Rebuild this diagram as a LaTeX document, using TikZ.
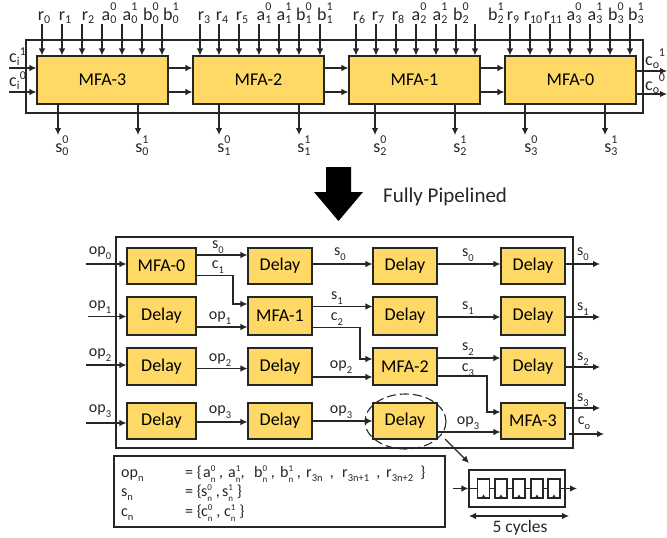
\documentclass[tikz,border=0pt]{standalone}
\usepackage{fontspec}
\setmainfont{Carlito}
\usetikzlibrary{arrows.meta}
\definecolor{blockgold}{HTML}{FFD966}
\definecolor{linedark}{HTML}{262626}
\newcommand{\scr}{\fontsize{10.5}{10.5}\selectfont}
\newcommand{\scrbig}{\fontsize{12}{12}\selectfont}
\newcommand{\scrkey}{\fontsize{9}{9}\selectfont}
\newcommand{\lb}[3]{#1\rlap{\raisebox{-0.28em}{\scr #2}}\phantom{\scr #2}}
% bigger labels of the top row, raise of the upper index first
\newcommand{\lbt}[4][0.55em]{#2\rlap{\raisebox{-0.22em}{\scrbig #3}}\rlap{\raisebox{#1}{\scrbig #4}}\phantom{\scrbig #3}}
% small indices of the legend
\newcommand{\lbk}[3]{#1\rlap{\raisebox{-0.32em}{\scrkey #2}}\rlap{\raisebox{0.32em}{\scrkey #3}}\phantom{\scrkey #2}}
\newcommand{\cell}[2]{\makebox[#1pt][l]{#2}}
\tikzset{
  wire/.style={->, line width=1.1pt, draw=linedark},
  frame/.style={draw=linedark, line width=1.1pt},
  blockbox/.style={draw=linedark, fill=blockgold, line width=1.1pt, inner sep=0pt, font=\fontsize{18}{20}\selectfont},
  lbl/.style={inner sep=0pt, text=linedark, font=\fontsize{16}{18}\selectfont},
  lblbig/.style={inner sep=0pt, text=linedark, font=\fontsize{18}{20}\selectfont},
  ffbox/.style={draw=linedark, fill=white, line width=1.1pt, inner sep=0pt, minimum width=12pt, minimum height=19pt},
}
\begin{document}
\begin{tikzpicture}[x=1pt, y=-1pt, >={Latex[length=7pt,width=6.5pt]}]
    \useasboundingbox (0,0) rectangle (667,538);

    % Top frame
    \draw[frame] (26,40) rectangle (643,113);

    % Top blocks
    \foreach \name/\cx/\txt in {mfa3/102.5/MFA-3, mfa2/258.5/MFA-2, mfa1/414.5/MFA-1, mfa0/570.5/MFA-0}
        \node[blockbox, minimum width=131pt, minimum height=48pt] (\name) at (\cx,80) {\txt};

    % Inputs on top
    \foreach \i/\x/\lx/\b/\s/\p in {
        1/42/44/r/0/, 2/62/65/r/1/, 3/82/88/r/2/, 4/102/109/a/0/0, 5/122/130/a/0/1, 6/142/151/b/0/0, 7/162/171/b/0/1,
        8/200/204/r/3/, 9/219/222/r/4/, 10/239/242/r/5/, 11/259/264/a/1/0, 12/279/284/a/1/1, 13/299/304/b/1/0, 14/320/325/b/1/1,
        15/356/359/r/6/, 16/376/378/r/7/, 17/396/398/r/8/, 18/416/419/a/2/0, 19/436/440/a/2/1, 20/456/461/b/2/0, 21/475/496/b/2/1,
        22/510/513/r/9/, 23/530/533/r/10/, 24/550/553/r/11/, 25/570/574/a/3/0, 26/590/595/a/3/1, 27/610/616/b/3/0, 28/630/636/b/3/1} {
        \coordinate (top\i) at (\x,24);
        \node[lblbig, anchor=base] (toplbl\i) at (\lx,20) {\lbt{\b}{\s}{\p}};
        \draw[wire] (top\i) -- (top\i |- mfa3.north);
    }

    % Sum outputs
    \foreach \i/\x/\lx/\s/\p in {1/58/62/0/0, 2/138/142/0/1, 3/219/224/1/0, 4/299/304/1/1, 5/375/380/2/0, 6/455/460/2/1, 7/525/531/3/0, 8/605/611/3/1} {
        \coordinate (bot\i) at (\x,135);
        \node[lblbig, anchor=base] (botlbl\i) at (\lx,152) {\lbt[0.45em]{s}{\s}{\p}};
        \draw[wire] (bot\i |- mfa3.south) -- (bot\i);
    }

    % Carries
    \coordinate (ci1) at (9,68);
    \coordinate (ci0) at (9,92);
    \coordinate (co1) at (667,71);
    \coordinate (co0) at (667,94);
    \draw[wire] (ci1) -- (ci1 -| mfa3.west);
    \draw[wire] (ci0) -- (ci0 -| mfa3.west);
    \draw[wire] (co1 -| mfa0.east) -- (co1);
    \draw[wire] (co0 -| mfa0.east) -- (co0);
    \foreach \a/\b in {mfa3/mfa2, mfa2/mfa1, mfa1/mfa0} {
        \draw[wire] (\a.east |- ci1) -- (\b.west |- ci1);
        \draw[wire] (\a.east |- ci0) -- (\b.west |- ci0);
    }
    \node[lblbig, anchor=base west] (cilbl1) at (9,62) {\lbt[0.35em]{c}{i}{\hspace{3pt}1}};
    \node[lblbig, anchor=base west] (cilbl0) at (9,86) {\lbt[0.35em]{c}{i}{\hspace{3pt}0}};
    \node[lblbig, anchor=base west] (colbl1) at (645,65) {\lbt[0.5em]{c}{o}{\hspace{6pt}1}};
    \node[lblbig, anchor=base west] (colbl0) at (645,90) {\lbt[0.5em]{c}{o}{\hspace{6pt}0}};

    % Big arrow
    \fill[black] (326,167) -- (351,167) -- (351,192) -- (363,192) -- (338.5,221) -- (314,192) -- (326,192) -- cycle;
    \node[lbl, anchor=west, font=\fontsize{21}{24}\selectfont] (pipelbl) at (383,197) {Fully Pipelined};

    % Pipeline frame
    \draw[frame] (116,237) rectangle (573,448);

    % Pipeline blocks
    \foreach \name/\cx/\w/\cy/\h/\txt in {
        a1/161.5/69/266/36/MFA-0, b1/280/64/266/36/Delay, c1/405/64/266/36/Delay, d1/533/64/266/36/Delay,
        a2/161.5/69/316/38/Delay, b2/280/64/316/38/MFA-1, c2/405/64/316/38/Delay, d2/533/64/316/38/Delay,
        a3/161.5/69/366.5/37/Delay, b3/280/64/366.5/37/Delay, c3/405/64/366.5/37/MFA-2, d3/533/64/366.5/37/Delay,
        a4/161.5/69/421/36/Delay, b4/280/64/421/36/Delay, c4/405/64/421/36/Delay, d4/533/64/421/36/MFA-3}
        \node[blockbox, minimum width=\w pt, minimum height=\h pt] (\name) at (\cx,\cy) {\txt};

    % Inputs of the pipeline
    \foreach \i/\x/\y/\ly in {0/86/264/253, 1/88/316.5/307, 2/86/365/355, 3/86/423/411} {
        \coordinate (opin\i) at (\x,\y);
        \node[lbl] (oplbl\i) at (100,\ly) {\lb{op}{\i}{}};
    }
    \draw[wire] (opin0) -- (opin0 -| a1.west);
    \draw[wire] (opin1) -- (opin1 -| a2.west);
    \draw[wire] (opin2) -- (opin2 -| a3.west);
    \draw[wire] (opin3) -- (opin3 -| a4.west);

    % Straight wires
    \foreach \a/\b/\y in {a1/b1/255, b1/c1/264, c1/d1/264, a2/b2/327, b2/c2/306.5, c2/d2/317, a3/b3/368.5, c3/d3/358, b3/c3/377, a4/b4/422, b4/c4/421, c4/d4/432}
        \draw[wire] (\a.east |- 0,\y) -- (\b.west |- 0,\y);

    % Carry wires
    \draw[wire] (a1.east |- 0,275.5) -| (233,304) -- (b2.west |- 0,304);
    \draw[wire] (b2.east |- 0,327.5) -| (360,359) -- (c3.west |- 0,359);
    \draw[wire] (c3.east |- 0,376) -| (487,412) -- (d4.west |- 0,412);

    % Outputs of the pipeline
    \foreach \a/\i/\y in {d1/1/264, d2/2/317, d3/3/367, d4/4/408} {
        \coordinate (pout\i) at (600,\y);
        \draw[wire] (\a.east |- pout\i) -- (pout\i);
    }
    \coordinate (cofrom) at (569,434);
    \coordinate (coout) at (604,434);
    \draw[wire] (cofrom) -- (coout);

    % Wire labels
    \foreach \i/\x/\y/\b/\s in {
        1/218/247/s/0, 2/218/267/c/1, 3/340/254/s/0, 4/468/255/s/0, 5/583/254/s/0,
        6/220/318/op/1, 7/337/298/s/1, 8/337/319/c/2, 9/468/308/s/1, 10/583/309/s/1,
        11/220/360/op/2, 12/341/367/op/2, 13/468/349/s/2, 14/468/370/c/3, 15/583/359/s/2,
        16/220/412/op/3, 17/341/412/op/3, 18/468/423/op/3, 19/583/400/s/3, 20/584/423/c/o}
        \node[lbl] (wirelbl\i) at (\x,\y) {\lb{\b}{\s}{}};

    % Dashed ring and its pointer
    \draw[line width=1.1pt, draw=linedark, dash pattern=on 9pt off 4pt] (405.5,421.5) ellipse (40.5 and 27.5);
    \coordinate (ringend) at (445,439);
    \coordinate (ringtip) at (469,463);
    \draw[wire] (ringend) -- (ringtip);

    % Shift register
    \node[draw=linedark, line width=1.1pt, minimum width=96pt, minimum height=37pt, inner sep=0pt] (shiftbox) at (517,488.5) {};
    \foreach \i/\cx in {1/483.5, 2/501, 3/519, 4/537, 5/554} {
        \node[ffbox] (ff\i) at (\cx,488.5) {};
        \fill[linedark] (ff\i.south) ++(-2.5,0) -- ++(5,0) -- ++(-2.5,-4) -- cycle;
    }
    \coordinate (regin) at (453,488.5);
    \coordinate (regout) at (577,488.5);
    \draw[wire] (regin) -- (shiftbox.west);
    \draw[frame] (shiftbox.west) -- (ff1.west);
    \foreach \a/\b in {1/2, 2/3, 3/4, 4/5}
        \draw[frame] (ff\a.east) -- (ff\b.west);
    \draw[wire] (ff5.east) -- (regout);
    \coordinate (spanl) at (469,516);
    \coordinate (spanr) at (569,516);
    \draw[wire, <->] (spanl) -- (spanr);
    \node[lbl, font=\fontsize{17.5}{20}\selectfont] (cycleslbl) at (520,528) {5 cycles};

    % Legend
    \draw[frame] (114,456) rectangle (445,527);
    \node[lbl, anchor=base west] (keyop) at (121,477) {\lb{op}{n}{}};
    \node[lbl, anchor=base west] (keys) at (121,496) {\lb{s}{n}{}};
    \node[lbl, anchor=base west] (keyc) at (121,516) {\lb{c}{n}{}};
    \node[lbl, anchor=base west] (valop) at (185,477) {\cell{18}{= \{}\cell{25}{\lbk{a}{n}{0} ,}\cell{26}{\lbk{a}{n}{1},}\cell{26}{\lbk{b}{n}{0} ,}\cell{26}{\lbk{b}{n}{1} ,}\cell{36}{\lb{r}{3n}{}\ \ ,}\cell{44}{\lb{r}{3n+1}{}\ \ ,}\cell{39}{\lb{r}{3n+2}{}\ \ \}}};
    \node[lbl, anchor=base west] (vals) at (185,496) {\cell{16}{= \{}\cell{21}{\lbk{s}{n}{0} ,}\lbk{s}{n}{1} \}};
    \node[lbl, anchor=base west] (valc) at (185,516) {\cell{16}{= \{}\cell{23}{\lbk{c}{n}{0} ,}\lbk{c}{n}{1} \}};
\end{tikzpicture}
\end{document}
